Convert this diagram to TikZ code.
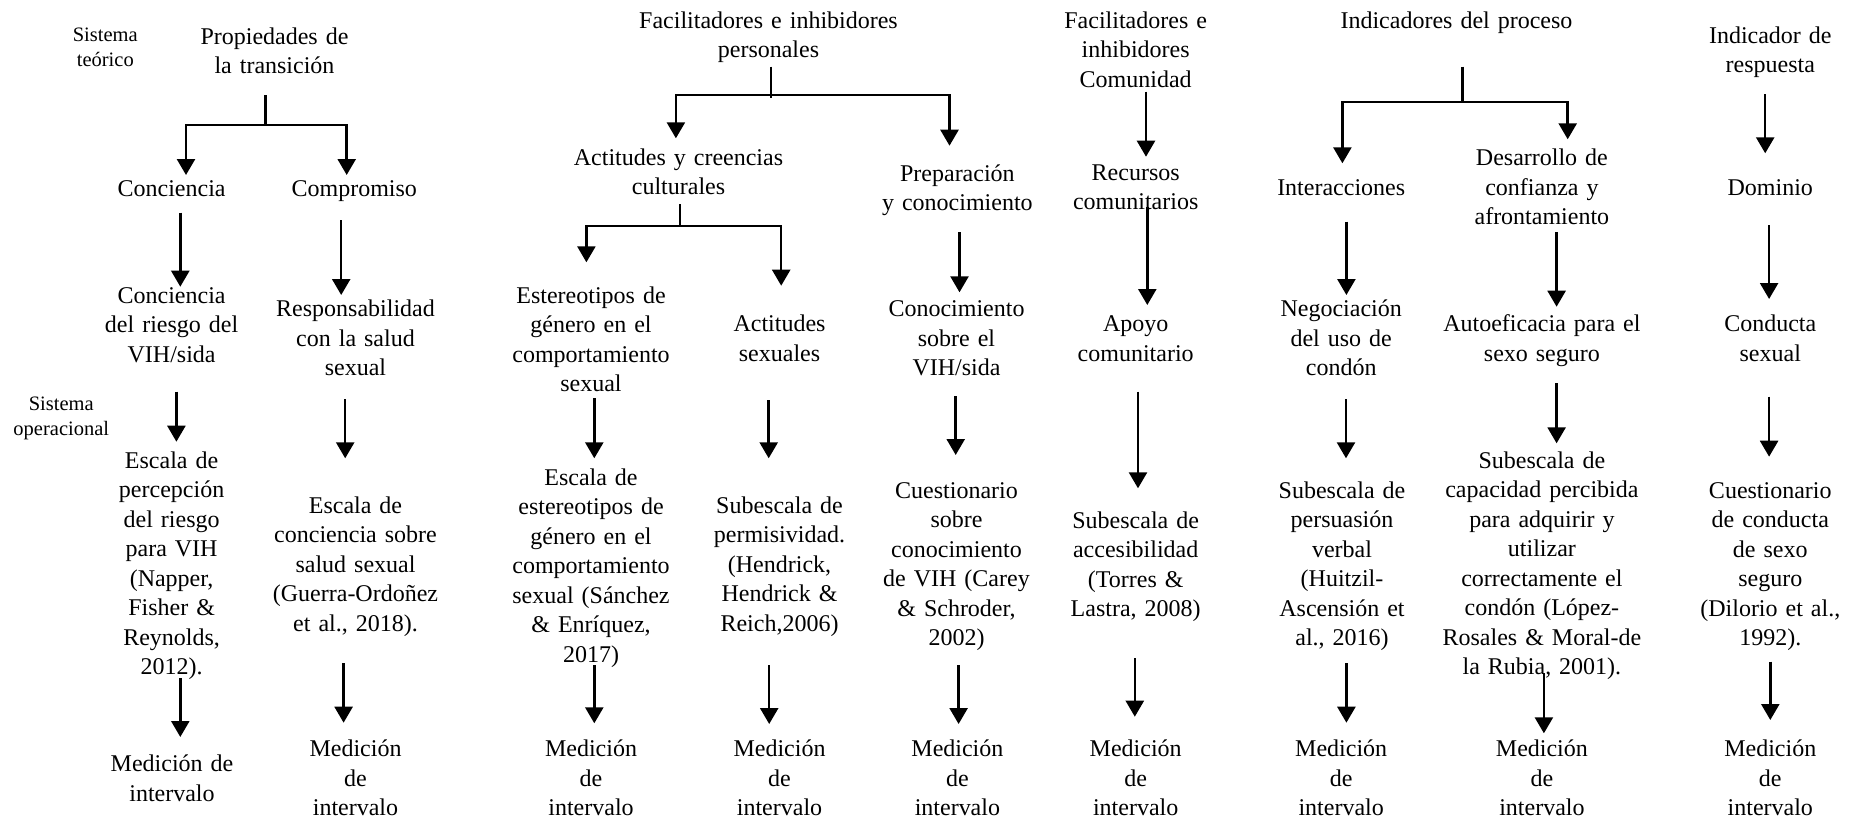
\documentclass[tikz,border=0pt]{standalone}
\usepackage{fontspec}
\setmainfont{Liberation Serif}
\usetikzlibrary{arrows.meta}

\tikzset{
  txt/.style={anchor=base, align=center, inner sep=0pt, text width=260pt,
              font=\fontsize{24}{29.5}\selectfont},
  small/.style={anchor=base, align=center, inner sep=0pt, text width=140pt,
              font=\fontsize{20.5}{25}\selectfont},
  link/.style={line width=2.5pt, black},
  arr/.style={link, -{Triangle[width=18pt,length=16pt]}}
}

% vertical arrow between two named coordinates: name, x, y-start, y-tip
\newcommand\vlink[4]{%
  \coordinate (#1s) at (#2,#3);
  \coordinate (#1e) at (#2,#4);
  \draw[arr] (#1s) -- (#1e);}

% split connector: name, stem x, stem top, junction y, stem bottom, left x, left tip, right x, right tip
\newcommand\split[9]{%
  \coordinate (#1t) at (#2,#3);
  \coordinate (#1b) at (#2,#5);
  \coordinate (#1j) at (#2,#4);
  \coordinate (#1l) at (#6,#4);
  \coordinate (#1r) at (#8,#4);
  \coordinate (#1le) at (#6,#7);
  \coordinate (#1re) at (#8,#9);
  \draw[link] (#1t) -- (#1b);
  \draw[arr] (#1j) -- (#1l) -- (#1le);
  \draw[arr] (#1j) -- (#1r) -- (#1re);}

\begin{document}
\begin{tikzpicture}[x=1pt,y=-1pt]
\useasboundingbox (0,0) rectangle (1853,820);

% side labels
\node[small] (lblT) at (105.3,41.7) {Sistema\\teórico};
\node[small] (lblO) at (61.3,410) {Sistema\\operacional};

% ---- transition properties
\node[txt] (prop)   at (274.5,44)   {Propiedades de\\la transición};
\node[txt] (conc)   at (171.6,196.7) {Conciencia};
\node[txt] (comp)   at (354.3,196.7) {Compromiso};
\node[txt] (riesgo) at (171.6,303)  {Conciencia\\del riesgo del\\VIH/sida};
\node[txt] (resp)   at (355.5,316.7) {Responsabilidad\\con la salud\\sexual};
\node[txt] (escP)   at (171.6,468.3) {Escala de\\percepción\\del riesgo\\para VIH\\(Napper,\\Fisher \&\\Reynolds,\\2012).};
\node[txt] (escC)   at (355.5,513.3) {Escala de\\conciencia sobre\\salud sexual\\(Guerra-Ordoñez\\et al., 2018).};
\node[txt] (med1)   at (172,771.7)  {Medición de\\intervalo};
\node[txt] (med2)   at (355.5,756.7) {Medición\\de\\intervalo};

% ---- personal facilitators and inhibitors
\node[txt] (facP)  at (768.5,28.3)  {Facilitadores e inhibidores\\personales};
\node[txt] (actC)  at (678.5,165)   {Actitudes y creencias\\culturales};
\node[txt] (prep)  at (957.4,181)   {Preparación\\y conocimiento};
\node[txt] (ester) at (591,303.3)   {Estereotipos de\\género en el\\comportamiento\\sexual};
\node[txt] (actS)  at (779.5,331.7) {Actitudes\\sexuales};
\node[txt] (conoc) at (956.5,316.7) {Conocimiento\\sobre el\\VIH/sida};
\node[txt] (escE)  at (591,485)     {Escala de\\estereotipos de\\género en el\\comportamiento\\sexual (Sánchez\\\& Enríquez,\\2017)};
\node[txt] (subP)  at (779.5,513.3) {Subescala de\\permisividad.\\(Hendrick,\\Hendrick \&\\Reich,2006)};
\node[txt] (cuesV) at (956.5,498.3) {Cuestionario\\sobre\\conocimiento\\de VIH (Carey\\\& Schroder,\\2002)};
\node[txt] (med3)  at (591,756.7)   {Medición\\de\\intervalo};
\node[txt] (med4)  at (779.5,756.7) {Medición\\de\\intervalo};
\node[txt] (med5)  at (957.4,756.7) {Medición\\de\\intervalo};

% ---- community facilitators and inhibitors
\node[txt] (facC)  at (1135.7,28.3)  {Facilitadores e\\inhibidores\\Comunidad};
\node[txt] (recu)  at (1135.7,180)   {Recursos\\comunitarios};
\node[txt] (apoyo) at (1135.7,331.7) {Apoyo\\comunitario};
\node[txt] (subA)  at (1135.7,528.3) {Subescala de\\accesibilidad\\(Torres \&\\Lastra, 2008)};
\node[txt] (med6)  at (1135.7,756.7) {Medición\\de\\intervalo};

% ---- process indicators
\node[txt] (indP)  at (1456.5,28.3)  {Indicadores del proceso};
\node[txt] (inter) at (1341.2,195)   {Interacciones};
\node[txt] (desa)  at (1541.9,165.7) {Desarrollo de\\confianza y\\afrontamiento};
\node[txt] (nego)  at (1341.2,316.7) {Negociación\\del uso de\\condón};
\node[txt] (auto)  at (1541.9,331.7) {Autoeficacia para el\\sexo seguro};
\node[txt] (subV)  at (1342,498.3)   {Subescala de\\persuasión\\verbal\\(Huitzil-\\Ascensión et\\al., 2016)};
\node[txt] (subC)  at (1541.9,468.3) {Subescala de\\capacidad percibida\\para adquirir y\\utilizar\\correctamente el\\condón (López-\\Rosales \& Moral-de\\la Rubia, 2001).};
\node[txt] (med7)  at (1341.2,756.7) {Medición\\de\\intervalo};
\node[txt] (med8)  at (1541.9,756.7) {Medición\\de\\intervalo};

% ---- response indicator
\node[txt] (indR)  at (1770.3,43.3)  {Indicador de\\respuesta};
\node[txt] (domi)  at (1770.3,195)   {Dominio};
\node[txt] (condu) at (1770.3,331.7) {Conducta\\sexual};
\node[txt] (cuesC) at (1770.3,498.3) {Cuestionario\\de conducta\\de sexo\\seguro\\(Dilorio et al.,\\1992).};
\node[txt] (med9)  at (1770.3,756.7) {Medición\\de\\intervalo};

% ---- connectors
\split{sp1}{265.5}{95}{125}{125}{186}{175}{346.7}{175}
\vlink{a1}{180.3}{212.7}{286.7}
\vlink{a2}{176.4}{391.7}{441.7}
\vlink{a3}{180.3}{678}{737}
\vlink{b1}{341.2}{220}{295}
\vlink{b2}{345.2}{399}{458.3}
\vlink{b3}{343.6}{663.3}{722.7}

\split{sp2}{771.2}{66.7}{95}{98.3}{675.9}{138.3}{949.5}{145.7}
\split{sp3}{680}{204}{226}{226}{586.4}{262.3}{781.2}{285.7}
\vlink{c1}{594.3}{398.3}{458.3}
\vlink{c2}{594.3}{665}{723.3}
\vlink{d1}{768.7}{400}{458.3}
\vlink{d2}{769.2}{665}{724}
\vlink{e1}{959.5}{232.3}{292.3}
\vlink{e2}{955.7}{396}{455}
\vlink{e3}{958.6}{665}{724}

\vlink{f1}{1146}{91.7}{156.7}
\vlink{f2}{1147.3}{206.7}{305}
\vlink{f3}{1138}{391.7}{488.3}
\vlink{f4}{1134.8}{658.3}{716.7}

\split{sp4}{1462.4}{66.7}{102}{102}{1342.4}{163.3}{1567.7}{139.3}
\vlink{g1}{1346.4}{221.7}{295}
\vlink{g2}{1346}{399}{458.3}
\vlink{g3}{1346.4}{663.3}{722.7}
\vlink{h1}{1556.6}{232.3}{306.7}
\vlink{h2}{1556.6}{383.3}{443.3}
\vlink{h3}{1543.9}{673.3}{733.3}

\vlink{k1}{1765.2}{94.3}{153.3}
\vlink{k2}{1769.1}{225}{299}
\vlink{k3}{1769.1}{396.7}{456.7}
\vlink{k4}{1770.3}{661.7}{720}
\end{tikzpicture}
\end{document}
